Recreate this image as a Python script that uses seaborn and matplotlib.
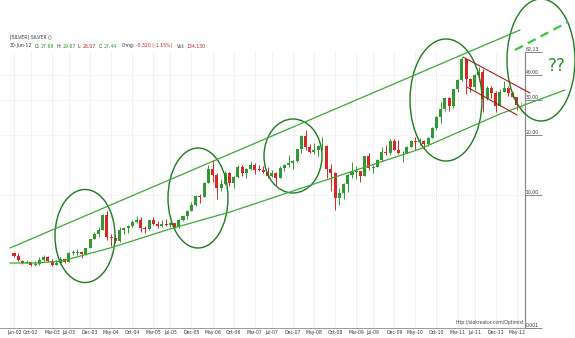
import numpy as np
import pandas as pd
import seaborn as sns
import matplotlib
matplotlib.use("Agg")
import matplotlib.pyplot as plt
from matplotlib.patches import Ellipse
from matplotlib.ticker import NullLocator, FixedLocator

# ---------------- data (monthly silver, Jun-02 .. Jun-12) ----------------
opens = [5.05, 4.90, 4.65, 4.52, 4.55, 4.42, 4.45,
         4.68, 4.85, 4.60, 4.43, 4.52, 4.75, 4.55, 5.10, 5.10, 5.15, 5.00, 5.36,
         5.96, 6.31, 6.66, 7.93, 6.12, 6.07, 5.86, 6.63, 6.78, 6.91, 7.27, 7.47,
         6.82, 6.71, 7.44, 7.13, 6.97, 7.12, 7.03, 7.19, 6.84, 7.48, 7.77, 8.30,
         8.83, 9.86, 9.75, 11.52, 13.47, 12.60, 10.85, 11.26, 12.88, 11.51, 12.28, 13.87,
         12.90, 13.46, 14.20, 13.37, 13.35, 13.07, 12.45, 12.86, 12.17, 13.70, 14.18, 14.48,
         14.76, 16.93, 19.90, 17.35, 16.41, 16.85, 17.52, 17.60, 13.55, 12.90, 9.60, 10.25,
         11.30, 12.53, 12.99, 13.12, 12.45, 15.60, 13.60, 13.86, 14.91, 16.45, 16.21, 18.68,
         16.86, 16.21, 16.32, 17.50, 18.64, 18.39, 18.66, 18.05, 19.39, 21.80, 24.78, 27.06,
         30.91, 27.93, 33.99, 37.87, 48.58, 38.26, 35.02, 40.04, 41.69, 30.45, 34.63, 32.72,
         28.18, 33.17, 34.70, 32.50, 31.06, 27.69]
highs = [5.10, 5.08, 4.70, 4.68, 4.58, 4.60, 4.85,
         4.97, 4.90, 4.73, 4.67, 4.85, 4.80, 5.15, 5.28, 5.30, 5.20, 5.40, 5.99,
         6.50, 6.88, 7.95, 8.29, 6.35, 6.30, 6.85, 6.90, 7.00, 7.49, 7.82, 7.72,
         6.92, 7.44, 7.72, 7.33, 7.45, 7.50, 7.30, 7.20, 7.55, 7.85, 8.35, 9.20,
         10.00, 10.10, 11.60, 14.20, 14.94, 12.90, 12.00, 13.10, 13.00, 12.40, 14.15, 14.05,
         13.60, 14.80, 14.40, 14.05, 13.90, 13.80, 13.40, 12.95, 13.90, 14.35, 15.80, 15.05,
         17.00, 20.05, 21.24, 18.10, 18.20, 17.80, 19.45, 17.75, 14.30, 12.95, 10.80, 11.50,
         12.70, 14.60, 13.90, 13.20, 15.65, 16.20, 14.05, 15.10, 17.40, 17.90, 19.00, 19.18,
         18.90, 16.60, 17.70, 18.85, 19.50, 19.40, 18.80, 19.45, 22.10, 24.90, 29.30, 31.00,
         31.10, 34.00, 38.20, 49.82, 48.70, 38.90, 40.70, 44.20, 43.00, 35.30, 35.30, 33.50,
         34.00, 37.48, 35.40, 33.10, 31.30, 29.67]
lows = [4.85, 4.60, 4.45, 4.50, 4.38, 4.35, 4.44,
        4.62, 4.55, 4.37, 4.40, 4.48, 4.50, 4.55, 4.97, 4.95, 4.80, 4.95, 5.36,
        5.95, 6.10, 6.60, 5.92, 5.50, 5.70, 5.80, 6.35, 6.40, 6.85, 7.20, 6.50,
        6.38, 6.60, 7.00, 6.80, 6.90, 6.98, 6.85, 6.80, 6.80, 7.40, 7.55, 8.25,
        8.80, 9.10, 9.70, 11.50, 11.60, 9.50, 10.40, 11.25, 11.00, 10.80, 12.20, 12.50,
        12.20, 13.30, 12.70, 13.20, 12.85, 12.20, 12.30, 11.20, 12.10, 13.20, 13.80, 13.50,
        14.70, 16.30, 16.90, 16.15, 16.10, 15.70, 16.80, 12.20, 10.40, 8.40, 8.90, 9.50,
        10.30, 12.20, 12.00, 11.65, 12.40, 13.40, 12.80, 13.80, 14.80, 15.90, 15.90, 16.80,
        16.00, 14.65, 16.20, 17.40, 16.90, 17.80, 17.30, 17.70, 19.30, 21.30, 23.10, 26.50,
        26.40, 27.30, 32.90, 37.70, 32.33, 33.00, 33.60, 37.50, 26.07, 30.00, 30.70, 26.15,
        27.90, 33.00, 31.60, 30.80, 26.70, 26.07]
closes = [4.90, 4.66, 4.50, 4.55, 4.43, 4.45, 4.67,
          4.82, 4.60, 4.43, 4.52, 4.76, 4.55, 5.10, 5.10, 5.15, 5.02, 5.36, 5.96,
          6.31, 6.66, 7.93, 6.12, 6.07, 5.86, 6.63, 6.78, 6.91, 7.27, 7.47, 6.82,
          6.71, 7.44, 7.13, 6.97, 7.12, 7.03, 7.19, 6.84, 7.48, 7.77, 8.30, 8.83,
          9.86, 9.75, 11.52, 13.47, 12.60, 10.85, 11.26, 12.88, 11.51, 12.28, 13.87, 12.90,
          13.46, 14.20, 13.37, 13.35, 13.07, 12.45, 12.86, 12.17, 13.70, 14.18, 14.48, 14.76,
          16.93, 19.90, 17.35, 16.41, 16.85, 17.52, 17.60, 13.55, 12.90, 9.60, 10.25, 11.30,
          12.53, 12.99, 13.12, 12.45, 15.60, 13.60, 13.86, 14.91, 16.45, 16.21, 18.68, 16.86,
          16.21, 16.32, 17.50, 18.64, 18.39, 18.66, 18.05, 19.39, 21.80, 24.78, 27.06, 30.91,
          27.93, 33.99, 37.87, 48.58, 38.26, 35.02, 40.04, 41.69, 30.45, 34.63, 32.72, 28.18,
          33.17, 34.70, 32.50, 31.06, 28.22, 27.44]

month_labels = ["Jun-02", "Oct-02", "Mar-03", "Jul-03", "Dec-03", "May-04", "Oct-04",
                "Mar-05", "Jul-05", "Dec-05", "May-06", "Oct-06", "Mar-07", "Jul-07",
                "Dec-07", "May-08", "Oct-08", "Mar-09", "Jul-09", "Dec-09", "May-10",
                "Oct-10", "Mar-11", "Jul-11", "Dec-11", "May-12"]
y_tick_values = [10, 20, 30, 40]
y_tick_labels = ["0.001", "10.00", "20.00", "30.00", "40.00", "62.13"]

# ---------------- frame ----------------
dates = pd.date_range("2002-06-01", periods=len(opens), freq="MS")
df = pd.DataFrame({"date": dates, "open": opens, "high": highs,
                   "low": lows, "close": closes})
df["idx"] = np.arange(len(df))
df["label"] = df["date"].dt.strftime("%b-%y")
df["bottom"] = df[["open", "close"]].min(axis=1)
df["height"] = (df["close"] - df["open"]).abs()
df["dir"] = np.where(df["close"] >= df["open"], "up", "down")

sns.set_style("white")
plt.rcParams["font.family"] = ["DejaVu Sans"]

W, H = 575, 338
fig = plt.figure(figsize=(W / 100, H / 100), dpi=100)
ax = fig.add_axes([0, 10 / H, 525 / W, (328 - 52) / H])

GREEN = "#2f9a2f"
RED = "#d92626"
colors = np.where(df["dir"] == "up", GREEN, RED).astype(object)
colors[-1] = "#f2a0a8"

ax.set_yscale("log")
ylo, yhi = 2.122, 52.56
ax.set_ylim(ylo, yhi)
ax.set_xlim(-14 / 4.225, 511 / 4.225)

# light grid
xt_idx = [int(df.index[df["label"] == m][0]) for m in month_labels]
for xi in xt_idx:
    ax.axvline(xi, color="#eeeeee", lw=0.6, zorder=0)
for yv in y_tick_values:
    ax.axhline(yv, color="#e4e4e4", lw=0.6, ls=(0, (1, 1.5)), zorder=0)

# candles: wicks then bodies
ax.vlines(df["idx"], df["low"], df["high"], colors=list(colors), lw=0.7, zorder=2)
ax.bar(df["idx"], np.maximum(df["height"], df["bottom"] * 0.006), bottom=df["bottom"],
       width=0.72, color=list(colors), edgecolor="none", zorder=3)

# axes styling
for s in ["top", "left"]:
    ax.spines[s].set_visible(False)
ax.spines["right"].set_color("#8a8a8a")
ax.spines["bottom"].set_color("#9a9a9a")
ax.spines["right"].set_linewidth(0.9)
ax.spines["bottom"].set_linewidth(0.7)

ax.yaxis.tick_right()
ax.yaxis.set_minor_locator(NullLocator())
ax.set_yticks([ylo] + y_tick_values + [yhi])
ax.set_yticklabels(y_tick_labels, va="bottom", fontsize=3.3, color="#333333")
ax.tick_params(axis="y", which="major", direction="out", length=12.5, width=0.5,
               color="#555555", pad=-12.0)

ax.set_xticks(xt_idx)
ax.set_xticklabels(month_labels, fontsize=3.3, color="#333333")
ax.tick_params(axis="x", length=0, pad=1.6)

ax.text(0.998, 0.012, "http://slekreator.com/Optimist", transform=ax.transAxes,
        ha="right", va="bottom", fontsize=3.3, color="#444444")

# ---------------- header ----------------
fig.text(10 / W, 1 - 38 / H, "[SILVER] SILVER ()", fontsize=3.3, color="#333333",
         va="center", ha="left")
segments = [("30-Jun-12", "#333333", 1.8), ("O:", "#333333", 0.6), ("27.69", "#2f8f2f", 1.6),
            ("H:", "#333333", 0.6), ("29.67", "#2f8f2f", 1.6), ("L:", "#333333", 0.6),
            ("26.07", "#c02020", 1.6), ("C:", "#333333", 0.6), ("27.44", "#2f8f2f", 3.5),
            ("Chng:", "#333333", 0.6), ("-0.320 (-1.15%)", "#c02020", 3.5),
            ("Vol:", "#333333", 0.6), ("134,130", "#c02020", 0)]
fig.canvas.draw()
renderer = fig.canvas.get_renderer()
xpos = 10.0
for txt, col, gap in segments:
    t = fig.text(xpos / W, 1 - 46 / H, txt, fontsize=3.3, color=col, va="center", ha="left")
    bb = t.get_window_extent(renderer=renderer)
    xpos += bb.width + gap * 1.4

# ---------------- hand-drawn annotations (pixel space overlay) ----------------
ov = fig.add_axes([0, 0, 1, 1], facecolor="none")
ov.set_xlim(0, W)
ov.set_ylim(H, 0)
ov.axis("off")

DKGREEN = "#1f7a1f"
for cx, cy, ew, eh in [(85, 236, 60, 93), (198, 198, 60, 100), (293, 156, 58, 74),
                       (446, 100, 72, 122), (541, 60, 68, 122)]:
    ov.add_patch(Ellipse((cx, cy), ew, eh, fill=False, ec=DKGREEN, lw=1.0))

LGREEN = "#3aa935"
ov.plot([10, 520], [248, 30], color=LGREEN, lw=0.9)
ov.plot([10, 35, 62, 110, 170, 230, 320, 420, 500, 565],
        [263, 263, 261, 248, 229, 212, 182, 149, 114, 90], color=LGREEN, lw=0.9)
ov.plot([515, 568], [50, 22], color="#38c838", lw=1.6, ls=(0, (4, 2.5)))

DKRED = "#a82020"
ov.plot([463, 530], [57, 93], color=DKRED, lw=0.8)
ov.plot([467, 517], [87, 115], color=DKRED, lw=0.8)

ov.text(557, 66, "??", color="#2a8a2a", fontsize=12, ha="center", va="center")

fig.savefig("out.png", dpi=100)
